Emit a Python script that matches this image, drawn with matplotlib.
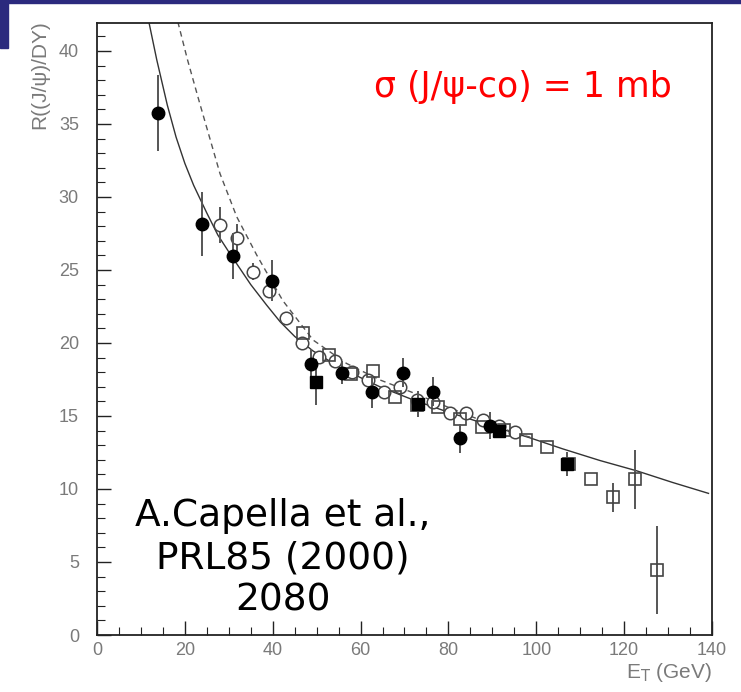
import numpy as np
import matplotlib
matplotlib.use("Agg")
import matplotlib.pyplot as plt
from matplotlib.patches import Rectangle
from matplotlib.ticker import MultipleLocator

# NA50 - dolu daireler
fc_x = [13.9, 23.9, 31.0, 39.8, 48.7, 55.7, 62.7, 69.7, 76.6, 82.6, 89.5]
fc_y = [35.75, 28.15, 25.96, 24.25, 18.56, 17.97, 16.66, 17.97, 16.66, 13.47, 14.34]
fc_e = [2.6, 2.2, 1.6, 1.4, 1.0, 0.8, 1.1, 1.0, 1.0, 1.0, 0.9]

# dolu kareler
fs_x = [49.9, 73.1, 91.6, 106.9]
fs_y = [17.33, 15.8, 13.97, 11.71]
fs_e = [1.6, 0.9, 0.5, 0.85]

# bos daireler
oc_x = [28.0, 31.8, 35.4, 39.2, 43.0, 46.6, 50.6, 54.2, 58.0, 61.6, 65.4, 69.0,
        72.8, 76.6, 80.4, 84.0, 87.8, 91.6, 95.2]
oc_y = [28.08, 27.17, 24.88, 23.58, 21.7, 19.97, 19.06, 18.77, 18.03, 17.47, 16.66, 16.96,
        16.1, 15.94, 15.18, 15.18, 14.73, 14.34, 13.88]
oc_e = [1.25, 1.0, 0.6, 0.5, 0, 0, 0, 0, 0, 0, 0, 0,
        0, 0, 0, 0, 0, 0, 0]

# bos kareler
os_x = [46.8, 52.9, 57.8, 62.8, 67.8, 72.8, 77.7, 82.6, 87.6, 92.6, 97.6,
        102.5, 107.5, 112.4, 117.4, 122.5, 127.4]
os_y = [20.7, 19.18, 17.88, 18.1, 16.32, 15.75, 15.6, 14.8, 14.27, 14.04, 13.36,
        12.86, 11.71, 10.66, 9.43, 10.66, 4.45]
os_e = [0, 0, 0, 0, 0, 0, 0, 0, 0, 0, 0,
        0, 0, 0, 1.0, 2.0, 3.0]

# teori egrileri
sol_x = [11.8, 13.6, 16.0, 18.0, 20.0, 22.0, 25.0, 27.5, 30.3, 35.0, 38.6, 41.7,
         45.0, 49.2, 56.0, 64.4, 72.0, 79.6, 89.0, 98.6, 106.0, 114.5, 122.8, 131.0, 139.2]
sol_y = [42.0, 39.4, 36.3, 34.1, 32.3, 30.8, 28.9, 27.4, 26.1, 24.0, 22.6, 21.45,
         20.45, 19.45, 18.2, 17.0, 16.1, 15.3, 14.4, 13.5, 12.75, 11.95, 11.25, 10.45, 9.7]
das_x = [18.4, 20.6, 23.4, 28.0, 31.8, 36.4, 42.3, 49.2, 56.8, 64.4, 71.9, 79.6,
         87.2, 95.5, 98.6]
das_y = [42.0, 39.4, 36.4, 31.6, 28.65, 26.0, 22.9, 20.2, 18.6, 17.47, 16.6, 15.64,
         14.73, 13.8, 13.55]

fig = plt.figure(figsize=(7.41, 6.92), dpi=100)
navy = "#2b2a7e"
fig.patches.append(Rectangle((0, 1 - 3 / 692), 1, 3 / 692, transform=fig.transFigure,
                             color=navy, zorder=0))
fig.patches.append(Rectangle((0, 1 - 48 / 692), 8 / 741, 48 / 692, transform=fig.transFigure,
                             color=navy, zorder=0))

ax = fig.add_axes([97 / 741, 57 / 692, 615 / 741, 612.5 / 692])
ax.set_xlim(0, 140)
ax.set_ylim(0, 41.95)

ax.plot(sol_x, sol_y, color="#333333", lw=1.0, zorder=2)
ax.plot(das_x, das_y, color="#555555", lw=1.0, ls=(0, (4, 3)), zorder=2)

ekw = dict(ecolor="#555555", elinewidth=1.4, capsize=0, ls="none")
ax.errorbar(oc_x, oc_y, yerr=oc_e, fmt="o", ms=9.0, mfc="white", mec="#444444", mew=1.1, zorder=3, **ekw)
ax.errorbar(os_x, os_y, yerr=os_e, fmt="s", ms=8.2, mfc="none", mec="#444444", mew=1.2, zorder=3, **ekw)
ax.errorbar(fs_x, fs_y, yerr=fs_e, fmt="s", ms=8.2, color="black", zorder=4, **ekw)
ax.errorbar(fc_x, fc_y, yerr=fc_e, fmt="o", ms=9.0, color="black", zorder=4, **ekw)

ax.xaxis.set_major_locator(MultipleLocator(20))
ax.xaxis.set_minor_locator(MultipleLocator(5))
ax.yaxis.set_major_locator(MultipleLocator(5))
ax.yaxis.set_minor_locator(MultipleLocator(1))
ax.tick_params(which="both", direction="in", color="#222222", labelcolor="#7a7a7a",
               labelsize=13)
ax.tick_params(which="major", length=10, width=1.0)
ax.tick_params(which="minor", length=6, width=0.8)
ax.tick_params(axis="y", pad=13)
ax.tick_params(axis="x", pad=5)
for lab in ax.get_xticklabels() + ax.get_yticklabels():
    lab.set_family("Liberation Sans")
for s in ax.spines.values():
    s.set_linewidth(1.3)
    s.set_color("#222222")

fig.text(40 / 741, 1 - 20 / 692, "R((J/ψ)/DY)", rotation=90, ha="center", va="top",
         color="#7a7a7a", fontsize=15, family="Liberation Sans")
fig.text(712 / 741, 1 - 673 / 692, "E$_{\\mathrm{T}}$ (GeV)", ha="right", va="center",
         color="#7a7a7a", fontsize=15, family="Liberation Sans")

fig.text(523 / 741, 1 - 87 / 692, "σ (J/ψ-co) = 1 mb", ha="center", va="center",
         color="red", fontsize=25)
fig.text(283 / 741, 1 - 558 / 692, "A.Capella et al.,\nPRL85 (2000)\n2080", ha="center",
         va="center", color="black", fontsize=27, linespacing=1.22)

fig.savefig("out.png", dpi=100)
